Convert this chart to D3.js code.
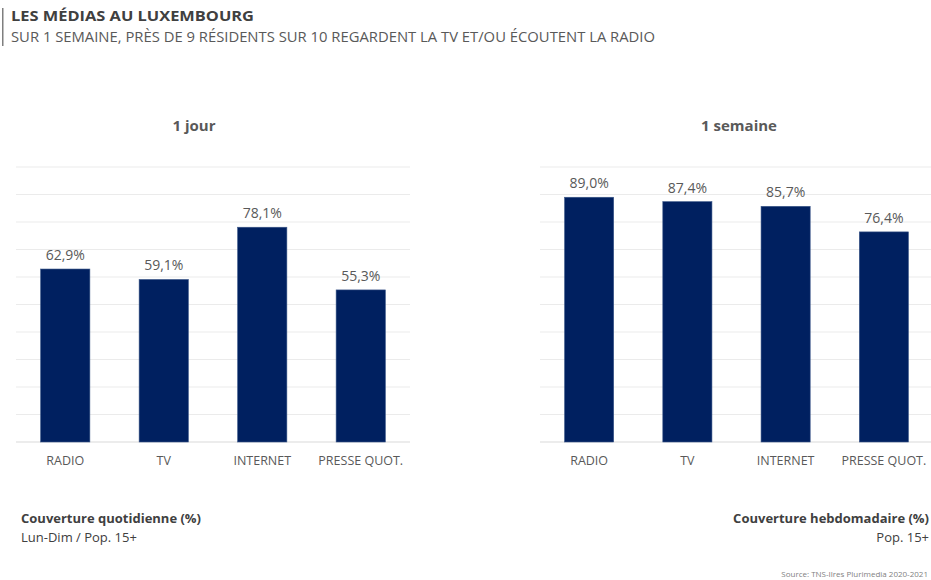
<!DOCTYPE html>
<html>
<head>
<meta charset="utf-8">
<script src="https://cdn.jsdelivr.net/npm/d3@7"></script>
<style>
  body { margin: 0; background: #fff; }
  svg { display: block; font-family: "Open Sans", "Noto Sans", sans-serif; }
</style>
</head>
<body>
<svg id="chart"></svg>
<script>
const categories = ["RADIO", "TV", "INTERNET", "PRESSE QUOT."];
const dailyValues = [62.9, 59.1, 78.1, 55.3];
const weeklyValues = [89.0, 87.4, 85.7, 76.4];
const yTicks = [0, 10, 20, 30, 40, 50, 60, 70, 80, 90, 100];

const W = 931, H = 580;
const svg = d3.select("#chart").attr("width", W).attr("height", H);

// header
svg.append("rect").attr("x", 2).attr("y", 8).attr("width", 1.5).attr("height", 38).attr("fill", "#7f7f7f");
svg.append("text").attr("x", 11).attr("y", 21)
    .style("font-size", "14px").style("font-weight", "bold").attr("fill", "#404040")
    .attr("textLength", 243).attr("lengthAdjust", "spacingAndGlyphs")
    .text("LES MÉDIAS AU LUXEMBOURG");
svg.append("text").attr("x", 11).attr("y", 42)
    .style("font-size", "14px").attr("fill", "#595959")
    .attr("textLength", 644).attr("lengthAdjust", "spacingAndGlyphs")
    .text("SUR 1 SEMAINE, PRÈS DE 9 RÉSIDENTS SUR 10 REGARDENT LA TV ET/OU ÉCOUTENT LA RADIO");

const plotTop = 167, plotBottom = 442;
const y = d3.scaleLinear().domain([0, 100]).range([plotBottom, plotTop]);
const fmt = v => d3.format(".1f")(v).replace(".", ",") + "%";

function panel(x0, x1, values, title, titleX) {
    const x = d3.scaleBand().domain(categories).range([x0, x1]).paddingInner(0.5).paddingOuter(0.25);
    const g = svg.append("g");

    g.selectAll(".grid")
        .data(yTicks)
        .enter().append("line")
        .attr("x1", x0).attr("x2", x1)
        .attr("y1", d => y(d)).attr("y2", d => y(d))
        .attr("stroke", d => d === 0 ? "#d9d9d9" : "#ebebeb")
        .attr("stroke-width", 1);

    g.selectAll(".bar")
        .data(values)
        .enter().append("rect")
        .attr("x", (d, i) => x(categories[i]))
        .attr("y", d => y(d))
        .attr("width", x.bandwidth())
        .attr("height", d => y(0) - y(d))
        .attr("fill", "#002060")
        .attr("stroke", "#3a5688")
        .attr("stroke-width", 0.6);

    g.selectAll(".val")
        .data(values)
        .enter().append("text")
        .attr("x", (d, i) => x(categories[i]) + x.bandwidth() / 2)
        .attr("y", d => y(d) - 9)
        .attr("text-anchor", "middle")
        .style("font-size", "14px")
        .attr("fill", "#595959")
        .text(fmt);

    const ax = g.append("g")
        .attr("transform", `translate(0,${plotBottom})`)
        .call(d3.axisBottom(x).tickSize(0).tickPadding(14));
    ax.select(".domain").remove();
    ax.selectAll("text")
        .style("font-size", "12.5px")
        .style("font-family", "\"Open Sans\", sans-serif")
        .attr("fill", "#595959");

    g.append("text")
        .attr("x", titleX)
        .attr("y", 131)
        .attr("text-anchor", "middle")
        .style("font-size", "15px")
        .style("font-weight", "bold")
        .attr("fill", "#595959")
        .text(title);
}

panel(16, 410, dailyValues, "1 jour", 194);
panel(540, 933, weeklyValues, "1 semaine", 739);

// footnotes
svg.append("text").attr("x", 21).attr("y", 523)
    .style("font-size", "13px").style("font-weight", "bold").attr("fill", "#404040")
    .text("Couverture quotidienne (%)");
svg.append("text").attr("x", 21).attr("y", 542)
    .style("font-size", "13px").attr("fill", "#404040")
    .text("Lun-Dim / Pop. 15+");
svg.append("text").attr("x", 929).attr("y", 523).attr("text-anchor", "end")
    .style("font-size", "13px").style("font-weight", "bold").attr("fill", "#404040")
    .text("Couverture hebdomadaire (%)");
svg.append("text").attr("x", 929).attr("y", 542).attr("text-anchor", "end")
    .style("font-size", "13px").attr("fill", "#404040")
    .text("Pop. 15+");
svg.append("text").attr("x", 928).attr("y", 577).attr("text-anchor", "end")
    .style("font-size", "8px").attr("fill", "#7f7f7f")
    .text("Source: TNS-Ilres Plurimedia 2020-2021");
</script>
</body>
</html>
